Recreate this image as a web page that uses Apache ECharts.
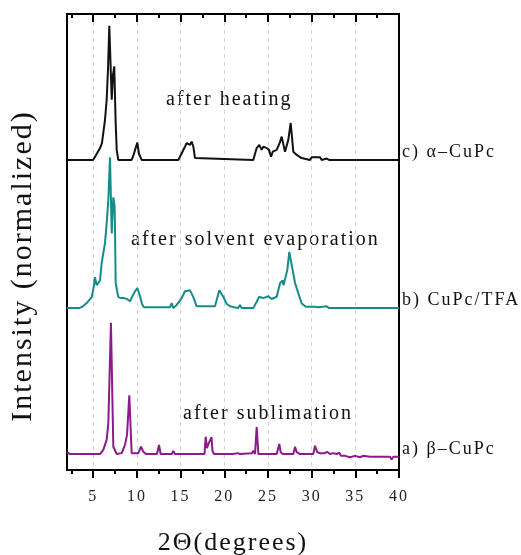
<!DOCTYPE html>
<html>
<head>
<meta charset="utf-8">
<script src="https://cdn.jsdelivr.net/npm/echarts@6/dist/echarts.min.js"></script>
<style>
  html, body { margin: 0; padding: 0; background: #fff; }
  #chart { width: 521px; height: 555px; }
</style>
</head>
<body>
<div id="chart"></div>
<script>
// ---- data (2θ in degrees, intensity above each baseline) ----
const majorTicks = [5, 10, 15, 20, 25, 30, 35, 40];
const minorTicks = [2.5, 7.5, 12.5, 17.5, 22.5, 27.5, 32.5, 37.5];

const seriesNames = ['c) α–CuPc', 'b) CuPc/TFA', 'a) β–CuPc'];
const annotations = ['after heating', 'after solvent evaporation', 'after sublimation'];
const baselines = [68.0, 35.5, 3.5];

const patternC = [
  [2.0,0],[4.98,0],[5.2,0.66],[5.78,2.6],[6.0,3.7],[6.35,8.8],[6.54,13.2],[6.69,19.7],[6.84,29.4],
  [7.12,13.2],[7.26,18.6],[7.41,20.5],[7.49,20.8],[7.57,8.1],[7.69,2.2],[7.87,0],[9.4,0],[9.55,0.7],
  [10.05,3.8],[10.24,1.3],[10.55,0],[14.74,0],[14.93,0.7],[15.5,2.9],[15.7,3.7],[16.08,3.3],[16.27,4.0],
  [16.46,2.9],[16.65,0.4],[16.84,0],[23.32,0],[23.71,2.6],[24.01,3.3],[24.28,2.2],[24.47,2.9],[24.86,2.6],
  [25.12,2.2],[25.35,0.7],[25.55,1.8],[26.0,2.2],[26.38,3.9],[26.57,5.1],[26.78,3.3],[26.95,1.8],[27.33,4.4],
  [27.6,8.1],[27.71,5.9],[27.9,1.8],[28.29,1.1],[28.86,0.4],[29.81,0],[30.0,0.6],[30.96,0.6],[31.15,0],
  [31.72,0.3],[31.99,0],[40,0]
];

const patternB = [
  [2.0,0],[3.37,0],[3.83,0.4],[4.25,1.1],[4.83,2.4],[5.09,5.0],[5.2,6.8],[5.4,5.0],[5.78,6.1],[5.97,9.9],
  [6.35,14.3],[6.54,18.6],[6.73,23.7],[6.92,33.1],[7.12,16.4],[7.3,24.3],[7.44,22.6],[7.49,18.2],[7.57,5.5],
  [7.87,2.4],[8.18,2.2],[8.52,2.2],[8.87,2.0],[9.21,1.5],[9.44,2.4],[9.78,3.7],[10.05,4.4],[10.36,2.6],
  [10.58,0.9],[10.81,0.2],[13.79,0.2],[13.98,1.1],[14.17,0],[14.55,0.7],[15.13,2.2],[15.5,3.7],[16.08,3.9],
  [16.46,2.4],[16.84,0.4],[18.94,0.4],[19.43,3.9],[19.86,2.6],[20.28,0.9],[20.66,0.4],[21.57,0],[21.8,0.7],
  [21.99,0],[23.32,0],[23.71,1.4],[24.0,2.5],[24.47,2.2],[25.04,2.6],[25.43,2.0],[26.0,2.5],[26.38,5.4],
  [26.67,6.1],[26.78,5.0],[26.95,4.7],[27.21,8.3],[27.44,12.3],[27.58,12.1],[27.83,8.3],[28.1,5.5],
  [28.47,3.3],[28.86,1.0],[29.35,0.3],[30.39,0.3],[30.58,0.7],[30.73,0.2],[31.72,0.4],[31.99,0],[40,0]
];

const patternA = [
  [2.0,0.4],[2.34,0],[5.78,0],[6.15,0.9],[6.54,3.1],[6.73,6.8],[7.03,28.8],[7.3,1.6],[7.69,0],[8.26,0.2],
  [8.64,2.0],[8.87,4.2],[9.13,12.9],[9.4,0.2],[10.16,0.2],[10.47,1.6],[10.73,0.5],[11.04,0],[12.3,0],
  [12.53,2.0],[12.72,0],[14.0,0],[14.17,0.7],[14.36,0],[15.5,0],[15.7,0.3],[16.08,0],[17.74,0],[17.87,3.8],
  [18.02,1.3],[18.2,2.3],[18.37,2.3],[18.54,3.7],[18.65,0.7],[18.82,0],[20.99,0],[21.57,0.2],[21.8,0],
  [23.17,0.2],[23.32,0.7],[23.52,0],[23.71,5.9],[23.9,0],[26.0,0],[26.3,2.2],[26.46,0.4],[26.69,0],[27.9,0],
  [28.1,1.6],[28.29,0.4],[28.47,0.7],[28.67,0],[30.19,0],[30.39,1.8],[30.65,0.4],[30.96,0.2],[31.53,0.2],
  [31.76,0.5],[32.1,0],[32.45,0.2],[32.87,0],[33.17,0.3],[33.36,-0.4],[33.82,-0.4],[34.39,-0.7],[34.96,-0.4],
  [35.54,-0.7],[35.88,-0.4],[36.68,-0.6],[38.97,-0.6],[39.16,-1.2],[39.35,-0.6],[40,-0.6]
];

const patterns = [patternC, patternB, patternA];
const colors = ['#111111', '#158c8a', '#8b1a8b'];

// ---- chart ----
const FONT = 'Liberation Serif';
const chart = echarts.init(document.getElementById('chart'), null, { renderer: 'canvas' });

const tickStyle = { color: '#000', width: 2 };
const lineBlack = { show: true, lineStyle: { color: '#000', width: 2 } };
const xCommon = { type: 'value', min: 2, max: 40, gridIndex: 0 };
const xAxes = [
  Object.assign({}, xCommon, {
    position: 'bottom',
    axisLine: lineBlack,
    axisTick: { show: true, customValues: majorTicks, length: 8, inside: false, lineStyle: tickStyle },
    axisLabel: { show: true, customValues: majorTicks, margin: 19, color: '#222', fontSize: 16, fontFamily: FONT },
    splitLine: { show: true, lineStyle: { color: '#d4d4d4', type: [4, 4], width: 1 } },
    name: '2Θ(degrees)', nameLocation: 'middle', nameGap: 60,
    nameTextStyle: { fontSize: 26, fontFamily: FONT, color: '#111' }
  }),
  Object.assign({}, xCommon, {
    position: 'bottom',
    axisLine: lineBlack,
    axisTick: { show: true, customValues: minorTicks, length: 4, inside: false, lineStyle: tickStyle },
    axisLabel: { show: false }, splitLine: { show: false }
  }),
  Object.assign({}, xCommon, {
    position: 'top',
    axisLine: lineBlack,
    axisTick: { show: true, customValues: majorTicks, length: 8, inside: true, lineStyle: tickStyle },
    axisLabel: { show: false }, splitLine: { show: false }
  }),
  Object.assign({}, xCommon, {
    position: 'top',
    axisLine: lineBlack,
    axisTick: { show: true, customValues: minorTicks, length: 4, inside: true, lineStyle: tickStyle },
    axisLabel: { show: false }, splitLine: { show: false }
  })
];

const series = patterns.map((pat, i) => ({
  type: 'line',
  name: seriesNames[i],
  xAxisIndex: 0,
  yAxisIndex: 0,
  data: pat.map(p => [p[0], p[1] + baselines[i]]),
  showSymbol: false,
  symbol: 'none',
  smooth: false,
  lineStyle: { color: colors[i], width: 2 },
  itemStyle: { color: colors[i] },
  z: 3,
  endLabel: {
    show: true,
    formatter: seriesNames[i],
    distance: 3,
    offset: [0, -8],
    color: '#111',
    fontSize: 18,
    fontFamily: FONT
  }
}));

const annX = [166, 131, 183];
const annY = [100, 240, 414];

chart.setOption({
  animation: false,
  backgroundColor: '#fff',
  grid: { left: 67, right: 122, top: 14, bottom: 85, containLabel: false, outerBoundsMode: 'none',
          show: true, borderColor: '#000', borderWidth: 2, backgroundColor: 'transparent' },
  xAxis: xAxes,
  yAxis: [
    { type: 'value', min: 0, max: 100, position: 'left',
      axisLine: lineBlack, axisTick: { show: false }, axisLabel: { show: false }, splitLine: { show: false } },
    { type: 'value', min: 0, max: 100, position: 'right',
      axisLine: lineBlack, axisTick: { show: false }, axisLabel: { show: false }, splitLine: { show: false } }
  ],
  series: series,
  graphic: [
    {
      type: 'text', x: 23, y: 266, rotation: Math.PI / 2,
      style: { text: 'Intensity (normalized)', fontSize: 30, fontFamily: FONT, fill: '#111', textAlign: 'center', textVerticalAlign: 'middle' }
    }
  ].concat(annotations.map((t, i) => ({
    type: 'text', x: annX[i], y: annY[i],
    style: { text: t, fontSize: 20, fontFamily: FONT, fill: '#111', textAlign: 'left', textVerticalAlign: 'middle' }
  })))
});

// the reference's lettering is slightly letter-spaced: apply it on the drawing context and repaint
const zr = chart.getZr();
zr.flush();
document.querySelectorAll('#chart canvas').forEach(function (cv) {
  const ctx = cv.getContext('2d');
  if (ctx && 'letterSpacing' in ctx) ctx.letterSpacing = '2px';
});
if (zr.painter && zr.painter.refresh) zr.painter.refresh(true);
</script>
</body>
</html>
